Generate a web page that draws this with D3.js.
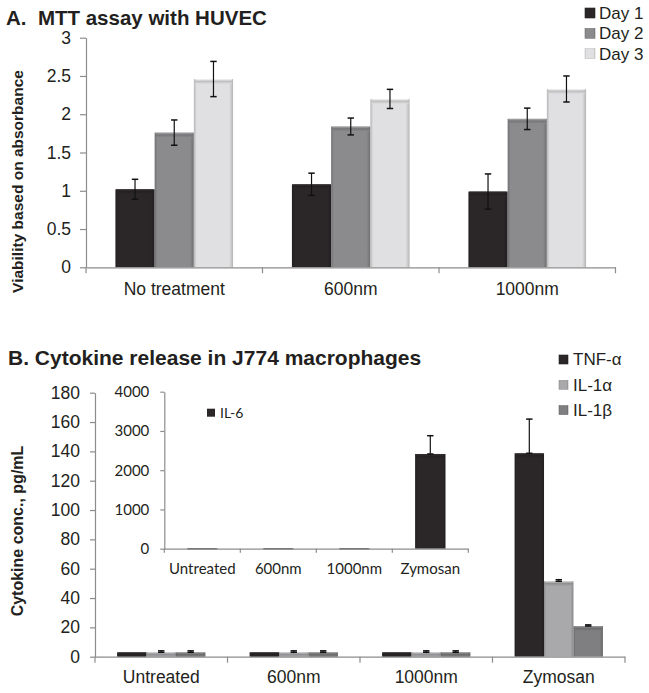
<!DOCTYPE html>
<html>
<head>
<meta charset="utf-8">
<script src="https://cdn.jsdelivr.net/npm/d3@7"></script>
<style>
  html, body { margin: 0; padding: 0; background: #fff; }
  svg { display: block; font-family: "Liberation Sans", Arial, sans-serif; }
</style>
</head>
<body>
<svg id="chart" width="649" height="693"></svg>
<script>
// ---------- Data: Panel A ----------
const topCategories = ["No treatment", "600nm", "1000nm"];
const topSeries = ["Day 1", "Day 2", "Day 3"];
const day1 = [1.02, 1.085, 0.99];
const day1Err = [0.13, 0.145, 0.23];
const day2 = [1.76, 1.84, 1.94];
const day2Err = [0.165, 0.11, 0.14];
const day3 = [2.46, 2.20, 2.33];
const day3Err = [0.23, 0.125, 0.17];
const topTicks = [0, 0.5, 1, 1.5, 2, 2.5, 3];
const topTickLabels = ["0", "0.5", "1", "1.5", "2", "2.5", "3"];

// ---------- Data: Panel B ----------
const bottomCategories = ["Untreated", "600nm", "1000nm", "Zymosan"];
const bottomSeries = ["TNF-α", "IL-1α", "IL-1β"];
const tnf = [3, 3, 3, 138.7];
const tnfErr = [0, 0, 0, 23.3];
const il1a = [3, 3, 3, 51.4];
const il1aErr = [1, 1, 1, 1.1];
const il1b = [3, 3, 3, 20.9];
const il1bErr = [1, 1, 1, 0.8];
const bottomTicks = [0, 20, 40, 60, 80, 100, 120, 140, 160, 180];

// ---------- Data: Panel B inset ----------
const insetCategories = ["Untreated", "600nm", "1000nm", "Zymosan"];
const insetSeries = ["IL-6"];
const il6 = [6, 6, 6, 2413];
const il6Err = [0, 0, 0, 466];
const insetTicks = [0, 1000, 2000, 3000, 4000];

// ---------- Styles ----------
const axisColor = "#8c8c8c";
const textColor = "#231f20";
const topColors = ["#2b2728", "#8b8b8d", "#e0e0e2"];
const bottomColors = ["#2b2728", "#a9a9ab", "#7f7f81"];
const insetColors = ["#2b2728"];

const svg = d3.select("#chart");
const defs = svg.append("defs");

function makeGradients(color, id) {
  const c = d3.color(color);
  const dark = c.darker(0.6).formatHex();
  const light = d3.color(color).brighter(0.7).formatHex();
  const h = defs.append("linearGradient").attr("id", id + "-h")
    .attr("x1", "0").attr("x2", "1").attr("y1", "0").attr("y2", "0");
  h.append("stop").attr("offset", "0%").attr("stop-color", dark);
  h.append("stop").attr("offset", "7%").attr("stop-color", color);
  h.append("stop").attr("offset", "90%").attr("stop-color", color);
  h.append("stop").attr("offset", "100%").attr("stop-color", dark);
  const v = defs.append("linearGradient").attr("id", id + "-v")
    .attr("x1", "0").attr("x2", "0").attr("y1", "0").attr("y2", "1");
  v.append("stop").attr("offset", "0%").attr("stop-color", light);
  v.append("stop").attr("offset", "45%").attr("stop-color", dark);
  v.append("stop").attr("offset", "100%").attr("stop-color", color);
}

function drawBar(g, x, y, w, h, gid) {
  if (h <= 0) return;
  g.append("rect").attr("x", x).attr("y", y).attr("width", w).attr("height", h)
    .attr("fill", `url(#${gid}-h)`);
  const bh = Math.min(5, h);
  g.append("rect").attr("x", x + 1).attr("y", y).attr("width", w - 2).attr("height", bh)
    .attr("fill", `url(#${gid}-v)`).attr("opacity", 0.8);
}

function drawErr(g, cx, yTop, yBot, cap) {
  g.append("line").attr("x1", cx).attr("x2", cx).attr("y1", yTop).attr("y2", yBot)
    .attr("stroke", "#111").attr("stroke-width", 1.2);
  g.append("line").attr("x1", cx - cap).attr("x2", cx + cap).attr("y1", yTop).attr("y2", yTop)
    .attr("stroke", "#111").attr("stroke-width", 1.5);
  if (yBot !== null && yBot !== yTop) {
    g.append("line").attr("x1", cx - cap).attr("x2", cx + cap).attr("y1", yBot).attr("y2", yBot)
      .attr("stroke", "#111").attr("stroke-width", 1.5);
  }
}

function styleAxis(g, fontSize, family) {
  g.selectAll("path.domain").attr("stroke", axisColor).attr("stroke-width", 1.2);
  g.selectAll(".tick line").attr("stroke", axisColor).attr("stroke-width", 1.2);
  g.selectAll("text").attr("fill", textColor).style("font-size", fontSize + "px")
    .style("font-family", family || null);
}

function boundaryTicks(g, x, cats, yAxis, len) {
  const pos = cats.map(c => x(c)).concat([x(cats[cats.length - 1]) + x.bandwidth()]);
  g.selectAll(null).data(pos).enter().append("line")
    .attr("x1", d => d).attr("x2", d => d).attr("y1", yAxis).attr("y2", yAxis + len)
    .attr("stroke", axisColor).attr("stroke-width", 1.2);
}

// =============== Panel A ===============
(function () {
  const x0 = d3.scaleBand().domain(topCategories).range([86, 615.5]).paddingInner(0).paddingOuter(0);
  const bw = x0.bandwidth();
  const x1 = d3.scaleBand().domain(topSeries).range([bw / 6, bw * 5 / 6]).padding(0);
  const y = d3.scaleLinear().domain([0, 3]).range([267.3, 37.7]);
  const g = svg.append("g");

  topColors.forEach((c, i) => makeGradients(c, "top" + i));

  const vals = [day1, day2, day3];
  const errs = [day1Err, day2Err, day3Err];

  topSeries.forEach((s, si) => {
    topCategories.forEach((cat, ci) => {
      const v = vals[si][ci];
      drawBar(g, x0(cat) + x1(s), y(v), x1.bandwidth(), y(0) - y(v), "top" + si);
    });
  });
  topSeries.forEach((s, si) => {
    topCategories.forEach((cat, ci) => {
      const v = vals[si][ci], e = errs[si][ci];
      const cx = x0(cat) + x1(s) + x1.bandwidth() / 2;
      drawErr(g, cx, y(v + e), y(v - e), 3.2);
    });
  });

  const ya = g.append("g").attr("transform", "translate(86,0)")
    .call(d3.axisLeft(y).tickValues(topTicks)
      .tickFormat((d, i) => topTickLabels[i]).tickSize(6).tickSizeOuter(0).tickPadding(9));
  styleAxis(ya, 17.5);

  const xa = g.append("g").attr("transform", `translate(0,${y(0)})`)
    .call(d3.axisBottom(x0).tickSize(0).tickSizeOuter(0).tickPadding(15.5));
  styleAxis(xa, 17.5);
  boundaryTicks(g, x0, topCategories, y(0), 6);

  svg.append("text").attr("x", 6).attr("y", 25)
    .attr("font-weight", "bold").attr("font-size", 20.5).attr("fill", textColor)
    .attr("xml:space", "preserve")
    .text("A.  MTT assay with HUVEC");

  svg.append("text").attr("transform", "translate(22.5,181.5) rotate(-90)")
    .attr("text-anchor", "middle").attr("font-weight", "bold").attr("font-size", 15.5)
    .attr("fill", textColor).text("Viability based on absorbance");

  const lg = svg.append("g");
  topSeries.forEach((s, i) => {
    const cy = 13 + i * 20.3;
    lg.append("rect").attr("x", 585).attr("y", cy - 5).attr("width", 10).attr("height", 10)
      .attr("fill", `url(#top${i}-h)`);
    lg.append("rect").attr("x", 585).attr("y", cy - 5).attr("width", 10).attr("height", 10)
      .attr("fill", "none").attr("stroke", d3.color(topColors[i]).darker(0.4)).attr("stroke-width", 0.6);
    lg.append("text").attr("x", 599).attr("y", cy).attr("dy", "0.35em")
      .attr("font-size", 17).attr("fill", textColor).text(s);
  });
})();

// =============== Panel B ===============
(function () {
  const x0 = d3.scaleBand().domain(bottomCategories).range([95, 625]).paddingInner(0).paddingOuter(0);
  const bw = x0.bandwidth();
  const x1 = d3.scaleBand().domain(bottomSeries).range([bw / 6, bw * 5 / 6]).padding(0);
  const y = d3.scaleLinear().domain([0, 180]).range([656.7, 392.7]);
  const g = svg.append("g");

  bottomColors.forEach((c, i) => makeGradients(c, "bot" + i));

  const vals = [tnf, il1a, il1b];
  const errs = [tnfErr, il1aErr, il1bErr];

  bottomSeries.forEach((s, si) => {
    bottomCategories.forEach((cat, ci) => {
      const v = vals[si][ci];
      drawBar(g, x0(cat) + x1(s), y(v), x1.bandwidth(), y(0) - y(v), "bot" + si);
    });
  });
  bottomSeries.forEach((s, si) => {
    bottomCategories.forEach((cat, ci) => {
      const v = vals[si][ci], e = errs[si][ci];
      if (e <= 0) return;
      const cx = x0(cat) + x1(s) + x1.bandwidth() / 2;
      drawErr(g, cx, y(v + e), y(v), 3.2);
    });
  });

  const ya = g.append("g").attr("transform", "translate(95,0)")
    .call(d3.axisLeft(y).tickValues(bottomTicks).tickFormat(d3.format("d"))
      .tickSize(5).tickSizeOuter(0).tickPadding(10));
  styleAxis(ya, 17.5);

  const xa = g.append("g").attr("transform", `translate(0,${y(0)})`)
    .call(d3.axisBottom(x0).tickSize(0).tickSizeOuter(0).tickPadding(14));
  styleAxis(xa, 17.5);
  boundaryTicks(g, x0, bottomCategories, y(0), 6);

  svg.append("text").attr("x", 8).attr("y", 365)
    .attr("font-weight", "bold").attr("font-size", 21).attr("fill", textColor)
    .text("B. Cytokine release in J774 macrophages");

  svg.append("text").attr("transform", "translate(23,531) rotate(-90)")
    .attr("text-anchor", "middle").attr("font-weight", "bold").attr("font-size", 16)
    .attr("fill", textColor).text("Cytokine conc., pg/mL");

  const lg = svg.append("g");
  bottomSeries.forEach((s, i) => {
    const cy = 359.5 + i * 25.3;
    lg.append("rect").attr("x", 559).attr("y", cy - 4.5).attr("width", 9).attr("height", 9)
      .attr("fill", `url(#bot${i}-h)`);
    lg.append("rect").attr("x", 559).attr("y", cy - 4.5).attr("width", 9).attr("height", 9)
      .attr("fill", "none").attr("stroke", d3.color(bottomColors[i]).darker(0.4)).attr("stroke-width", 0.6);
    lg.append("text").attr("x", 573).attr("y", cy).attr("dy", "0.35em")
      .attr("font-size", 17).attr("fill", textColor).text(s);
  });
})();

// =============== Panel B inset ===============
(function () {
  const xb = d3.scaleBand().domain(insetCategories).range([164.3, 468.3]).padding(0);
  const y = d3.scaleLinear().domain([0, 4000]).range([548.7, 391.7]);
  const g = svg.append("g");
  const fam = "Lato, 'Open Sans', sans-serif";

  insetColors.forEach((c, i) => makeGradients(c, "ins" + i));

  insetCategories.forEach((cat, ci) => {
    const v = il6[ci];
    const bw = xb.bandwidth() * 0.4;
    const bx = xb(cat) + xb.bandwidth() * 0.3;
    drawBar(g, bx, y(v), bw, Math.max(y(0) - y(v), 0.8), "ins0");
    const e = il6Err[ci];
    if (e > 0) drawErr(g, bx + bw / 2, y(v + e), y(v), 3.2);
  });

  const ya = g.append("g").attr("transform", "translate(164.3,0)")
    .call(d3.axisLeft(y).tickValues(insetTicks).tickFormat(d3.format("d"))
      .tickSize(4).tickSizeOuter(0).tickPadding(11));
  styleAxis(ya, 15, fam);

  const xa = g.append("g").attr("transform", `translate(0,${y(0)})`)
    .call(d3.axisBottom(xb).tickSize(0).tickSizeOuter(0).tickPadding(15));
  styleAxis(xa, 15, fam);
  boundaryTicks(g, xb, insetCategories, y(0), 4);

  insetSeries.forEach((s, i) => {
    const cy = 412.7;
    g.append("rect").attr("x", 207).attr("y", cy - 4).attr("width", 8).attr("height", 8)
      .attr("fill", `url(#ins${i}-h)`);
    g.append("text").attr("x", 220).attr("y", cy).attr("dy", "0.35em")
      .style("font-family", fam).attr("font-size", 14).attr("fill", textColor).text(s);
  });
})();
</script>
</body>
</html>
